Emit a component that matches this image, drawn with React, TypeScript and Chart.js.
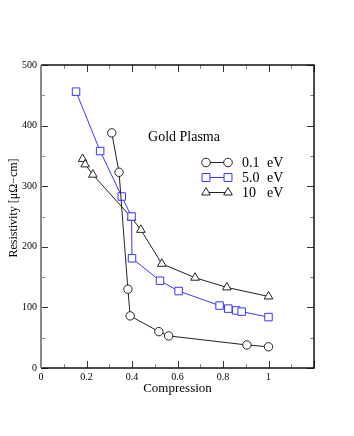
import React, { useEffect, useRef } from "react";
import { Chart, registerables } from "chart.js";

Chart.register(...registerables);

const seriesNames = ["0.1", "5.0", "10"];
const lowX = [0.311, 0.343, 0.382, 0.392, 0.518, 0.561, 0.905, 1.0];
const lowY = [388, 323, 130, 86, 60, 53, 38, 35];
const midX = [0.154, 0.26, 0.355, 0.398, 0.4, 0.523, 0.605, 0.785, 0.823, 0.858, 0.882, 1.0];
const midY = [456, 358, 283, 250, 181, 144, 127, 103, 98, 95, 93, 84];
const highX = [0.183, 0.194, 0.228, 0.398, 0.439, 0.531, 0.677, 0.817, 1.0];
const highY = [345, 336, 319, 248, 228, 172, 149, 133, 118];
const xTicks = [0, 0.1, 0.2, 0.3, 0.4, 0.5, 0.6, 0.7, 0.8, 0.9, 1.0, 1.1, 1.2];
const yTicks = [0, 50, 100, 150, 200, 250, 300, 350, 400, 450, 500];

const FONT = "'Liberation Serif', 'DejaVu Serif', serif";
const BLACK = "#222";
const BLUE = "#3636ff";

const toPts = (xs: number[], ys: number[]) => xs.map((x, i) => ({ x, y: ys[i] }));

function drawMarker(ctx: CanvasRenderingContext2D, style: string, x: number, y: number, r: number) {
  ctx.beginPath();
  if (style === "circle") {
    ctx.arc(x, y, r, 0, Math.PI * 2);
  } else if (style === "rect") {
    const s = Math.SQRT1_2 * r;
    ctx.rect(x - s, y - s, 2 * s, 2 * s);
  } else {
    const w = r * Math.sin((2 * Math.PI) / 3);
    ctx.moveTo(x, y - r);
    ctx.lineTo(x + w, y + r / 2);
    ctx.lineTo(x - w, y + r / 2);
    ctx.closePath();
  }
  ctx.fillStyle = "#fff";
  ctx.fill();
  ctx.stroke();
}

const framePlugin = {
  id: "frame",
  afterDraw(chart: any) {
    const ctx: CanvasRenderingContext2D = chart.ctx;
    const { left, right, top, bottom } = chart.chartArea;
    const xs = chart.scales.x;
    const ys = chart.scales.y;
    ctx.save();
    // ticks
    ctx.lineWidth = 1;
    xTicks.forEach((v, i) => {
      const px = Math.round(xs.getPixelForValue(v)) + 0.5;
      const major = i % 2 === 0;
      const len = major ? 7 : 4;
      ctx.strokeStyle = major ? "#333" : "#888";
      ctx.beginPath();
      ctx.moveTo(px, bottom);
      ctx.lineTo(px, bottom - len);
      ctx.moveTo(px, top);
      ctx.lineTo(px, top + len);
      ctx.stroke();
    });
    yTicks.forEach((v, i) => {
      const py = Math.round(ys.getPixelForValue(v)) + 0.5;
      const major = i % 2 === 0;
      const len = major ? 7 : 4;
      ctx.strokeStyle = major ? "#333" : "#888";
      ctx.beginPath();
      ctx.moveTo(left, py);
      ctx.lineTo(left + len, py);
      ctx.moveTo(right, py);
      ctx.lineTo(right - len, py);
      ctx.stroke();
    });
    // frame
    ctx.lineWidth = 1.5;
    ctx.strokeStyle = "#111";
    ctx.beginPath();
    ctx.moveTo(left, top);
    ctx.lineTo(right, top);
    ctx.lineTo(right, bottom);
    ctx.lineTo(left, bottom);
    ctx.stroke();
    ctx.lineWidth = 2;
    ctx.strokeStyle = "#888";
    ctx.beginPath();
    ctx.moveTo(left, top);
    ctx.lineTo(left, bottom);
    ctx.stroke();

    // axis titles
    ctx.fillStyle = "#000";
    ctx.textAlign = "center";
    ctx.textBaseline = "middle";
    ctx.font = `13px ${FONT}`;
    ctx.fillText("Compression", (left + right) / 2, 389);
    ctx.save();
    ctx.translate(13.5, 208);
    ctx.rotate(-Math.PI / 2);
    ctx.font = `12px ${FONT}`;
    ctx.fillText("Resistivity [\u03bc\u03a9\u2212cm]", 0, 0);
    ctx.restore();

    // inner title
    ctx.font = `14px ${FONT}`;
    ctx.fillText("Gold Plasma", 184, 137);

    // legend
    const rows = [
      { style: "circle", color: BLACK, r: 4.3, y: 162 },
      { style: "rect", color: BLUE, r: 5.6, y: 177 },
      { style: "triangle", color: BLACK, r: 5, y: 192 },
    ];
    rows.forEach((row, i) => {
      ctx.strokeStyle = row.color;
      ctx.lineWidth = 1;
      ctx.beginPath();
      ctx.moveTo(206, row.y + 0.5);
      ctx.lineTo(228, row.y + 0.5);
      ctx.stroke();
      drawMarker(ctx, row.style, 206, row.y + 0.5, row.r);
      drawMarker(ctx, row.style, 228, row.y + 0.5, row.r);
      ctx.fillStyle = "#000";
      ctx.textAlign = "left";
      ctx.font = `14px ${FONT}`;
      ctx.fillText(seriesNames[i], 242, row.y + 1);
      ctx.fillText("eV", 267, row.y + 1);
    });
    ctx.restore();
  },
};

export default function App() {
  const ref = useRef<HTMLCanvasElement | null>(null);
  useEffect(() => {
    if (!ref.current) return;
    const chart = new Chart(ref.current, {
      type: "line",
      data: {
        datasets: [
          {
            label: seriesNames[0] + " eV",
            data: toPts(lowX, lowY),
            borderColor: BLACK,
            borderWidth: 1,
            pointStyle: "circle",
            pointRadius: 4.2,
            pointBorderColor: BLACK,
            pointBackgroundColor: "#fff",
            pointBorderWidth: 1,
          },
          {
            label: seriesNames[1] + " eV",
            data: toPts(midX, midY),
            borderColor: BLUE,
            borderWidth: 1,
            pointStyle: "rect",
            pointRadius: 5.3,
            pointBorderColor: BLUE,
            pointBackgroundColor: "#fff",
            pointBorderWidth: 1,
          },
          {
            label: seriesNames[2] + " eV",
            data: toPts(highX, highY),
            borderColor: BLACK,
            borderWidth: 1,
            pointStyle: "triangle",
            pointRadius: 5,
            pointBorderColor: BLACK,
            pointBackgroundColor: "#fff",
            pointBorderWidth: 1,
          },
        ],
      },
      options: {
        animation: false,
        responsive: false,
        layout: { padding: { left: 0, top: 65, right: 40, bottom: 0 } },
        plugins: { legend: { display: false }, tooltip: { enabled: false }, title: { display: false } },
        scales: {
          x: {
            type: "linear",
            min: 0,
            max: 1.2,
            grid: { display: false, drawTicks: false },
            border: { display: false },
            ticks: {
              stepSize: 0.2,
              padding: 3,
              color: "#000",
              font: { family: FONT, size: 10 },
              maxRotation: 0,
              callback: (v: any) => (Number(v) > 1.1 ? "" : String(Math.round(Number(v) * 10) / 10)),
            },
            afterFit: (s: any) => {
              s.height = 68;
            },
          },
          y: {
            type: "linear",
            min: 0,
            max: 500,
            grid: { display: false, drawTicks: false },
            border: { display: false },
            ticks: {
              stepSize: 100,
              padding: 4,
              color: "#000",
              font: { family: FONT, size: 10 },
            },
            afterFit: (s: any) => {
              s.width = 41;
            },
          },
        },
      },
      plugins: [framePlugin],
    });
    return () => chart.destroy();
  }, []);
  return (
    <div style={{ position: "fixed", left: 0, top: 0, width: 354, height: 436, background: "#fff" }}>
      <canvas ref={ref} width={354} height={436} style={{ display: "block" }} />
    </div>
  );
}
